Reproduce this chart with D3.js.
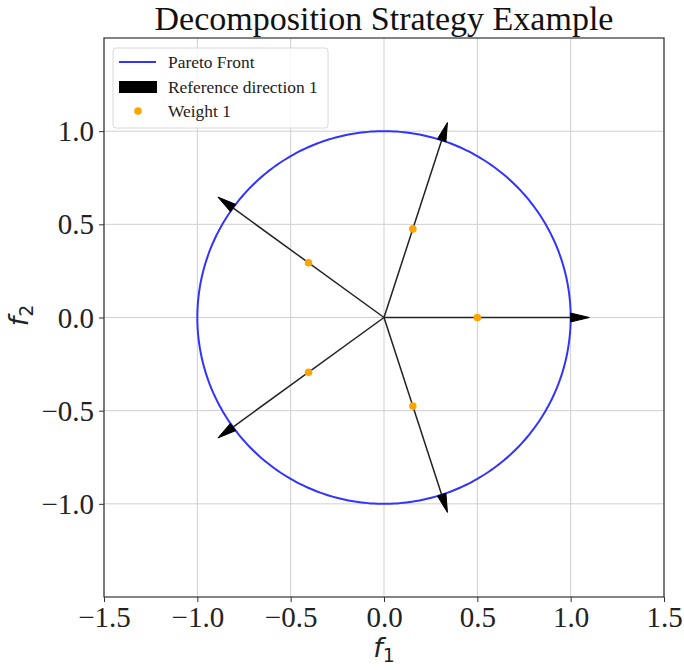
<!DOCTYPE html>
<html><head><meta charset="utf-8">
<script src="https://cdn.jsdelivr.net/npm/d3@7"></script>
<style>body{margin:0;background:#fff}</style>
</head><body>
<svg id="c" width="684" height="670"></svg>
<script>
const xTicks = [-1.5, -1.0, -0.5, 0.0, 0.5, 1.0, 1.5];
const yTicks = [-1.0, -0.5, 0.0, 0.5, 1.0];
const directionAnglesDeg = [0, 72, 144, 216, 288];
const arrowLength = 1.0;
const headLength = 0.1;
const headWidth = 0.024;
const weightRadius = 0.5;
const frontRadius = 1.0;
const legendLabels = ["Pareto Front", "Reference direction 1", "Weight 1"];

const svg = d3.select("#c");
const L = 104, R = 664, T = 38, B = 597;
const x = d3.scaleLinear().domain([-1.5, 1.5]).range([L, R]);
const y = d3.scaleLinear().domain([-1.5, 1.5]).range([B, T]);
const serif = "'Liberation Serif','Times New Roman',serif";

// grid
const g = svg.append("g");
g.selectAll(".gx").data(xTicks).join("line")
  .attr("x1", d => x(d)).attr("x2", d => x(d)).attr("y1", T).attr("y2", B)
  .attr("stroke", "#cfcfcf").attr("stroke-width", 1);
g.selectAll(".gy").data(yTicks).join("line")
  .attr("y1", d => y(d)).attr("y2", d => y(d)).attr("x1", L).attr("x2", R)
  .attr("stroke", "#cfcfcf").attr("stroke-width", 1);

// pareto front circle
const circ = d3.range(0, 361).map(a => [frontRadius * Math.cos(a * Math.PI / 180), frontRadius * Math.sin(a * Math.PI / 180)]);
svg.append("path").datum(circ)
  .attr("d", d3.line().x(d => x(d[0])).y(d => y(d[1])))
  .attr("fill", "none").attr("stroke", "#3333ff").attr("stroke-width", 2);

// arrows
directionAnglesDeg.forEach(a => {
  const r = a * Math.PI / 180, c = Math.cos(r), s = Math.sin(r);
  const bx = arrowLength * c, by = arrowLength * s;
  const tx = (arrowLength + headLength) * c, ty = (arrowLength + headLength) * s;
  const px = -s * headWidth, py = c * headWidth;
  svg.append("line")
    .attr("x1", x(0)).attr("y1", y(0)).attr("x2", x(bx)).attr("y2", y(by))
    .attr("stroke", "#222").attr("stroke-width", 1.5);
  svg.append("path")
    .attr("d", `M${x(bx + px)},${y(by + py)}L${x(tx)},${y(ty)}L${x(bx - px)},${y(by - py)}Z`)
    .attr("fill", "#000").attr("stroke", "#000").attr("stroke-width", 1);
});

// weights
svg.selectAll(".w").data(directionAnglesDeg).join("circle")
  .attr("cx", a => x(weightRadius * Math.cos(a * Math.PI / 180)))
  .attr("cy", a => y(weightRadius * Math.sin(a * Math.PI / 180)))
  .attr("r", 3.8).attr("fill", "#ffa500");

// frame
svg.append("rect").attr("x", L).attr("y", T).attr("width", R - L).attr("height", B - T)
  .attr("fill", "none").attr("stroke", "#333").attr("stroke-width", 1.2);

// axes
const fmt = d => d3.format(".1f")(d).replace("-", "\u2212");
const xa = svg.append("g").attr("transform", `translate(0,${B})`)
  .call(d3.axisBottom(x).tickValues(xTicks).tickSize(5).tickPadding(3).tickFormat(fmt));
const ya = svg.append("g").attr("transform", `translate(${L},0)`)
  .call(d3.axisLeft(y).tickValues(yTicks).tickSize(5).tickPadding(5).tickFormat(fmt));
[xa, ya].forEach(a => {
  a.select(".domain").remove();
  a.selectAll("line").attr("stroke", "#333");
  a.selectAll("text").attr("font-family", serif).attr("font-size", 29).attr("fill", "#222");
});
xa.selectAll("text").attr("dy", "0.76em");
ya.selectAll("text").attr("dy", "0.33em");

// title
svg.append("text").attr("x", (L + R) / 2).attr("y", 30).attr("text-anchor", "middle")
  .attr("font-family", serif).attr("font-size", 34).attr("fill", "#111")
  .text("Decomposition Strategy Example");

// axis labels
const xl = svg.append("text").attr("x", (L + R) / 2).attr("y", 657)
  .attr("font-family", "'DejaVu Sans',sans-serif").attr("font-size", 27).attr("fill", "#222")
  .attr("text-anchor", "middle");
xl.append("tspan").attr("font-style", "italic").text("f");
xl.append("tspan").attr("font-size", 19).attr("dy", 5).text("1");
const yl = svg.append("text").attr("transform", `translate(28,${(T + B) / 2 - 2}) rotate(-90)`)
  .attr("font-family", "'DejaVu Sans',sans-serif").attr("font-size", 27).attr("fill", "#222")
  .attr("text-anchor", "middle");
yl.append("tspan").attr("font-style", "italic").text("f");
yl.append("tspan").attr("font-size", 19).attr("dy", 5).text("2");

// legend
const lg = svg.append("g").attr("transform", "translate(113,48)");
lg.append("rect").attr("width", 215).attr("height", 80).attr("rx", 3)
  .attr("fill", "#fff").attr("fill-opacity", 0.8).attr("stroke", "#d8d8d8");
const rows = [14, 39, 63];
lg.append("line").attr("x1", 6).attr("x2", 43).attr("y1", rows[0]).attr("y2", rows[0])
  .attr("stroke", "#3333ff").attr("stroke-width", 2);
lg.append("rect").attr("x", 6).attr("y", rows[1] - 6).attr("width", 38).attr("height", 12).attr("fill", "#000");
lg.append("circle").attr("cx", 25).attr("cy", rows[2]).attr("r", 3.8).attr("fill", "#ffa500");
lg.selectAll(".lt").data(legendLabels).join("text")
  .attr("x", 55).attr("y", (d, i) => rows[i] + 6)
  .attr("font-family", serif).attr("font-size", 17.4).attr("fill", "#222").text(d => d);
</script>
</body></html>
